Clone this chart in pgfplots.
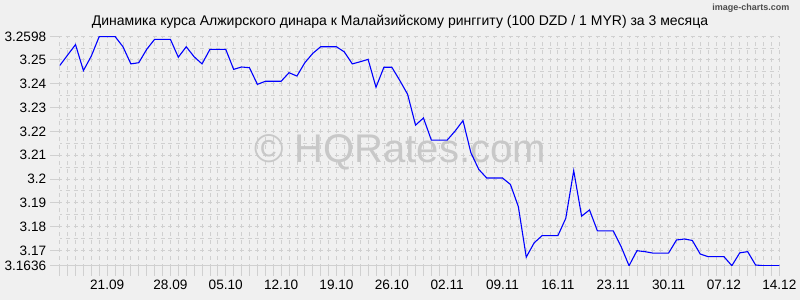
\documentclass[border=0pt]{standalone}
\usepackage{pgfplots}
\pgfplotsset{compat=1.18}
\usepackage{fontspec}
\setmainfont{Liberation Sans}
\definecolor{bg}{HTML}{F0F0F0}
\definecolor{gridc}{HTML}{D0D0D0}
\definecolor{wm}{HTML}{C8C8C8}
\definecolor{lineblue}{HTML}{0000FF}
\pgfplotstableread{
d v
0 3.2476
1 3.2520
2 3.2564
3 3.2455
4 3.2516
5 3.2598
6 3.2598
7 3.2598
8 3.2555
9 3.2483
10 3.2488
11 3.2544
12 3.2586
13 3.2586
14 3.2586
15 3.2511
16 3.2555
17 3.2513
18 3.2483
19 3.2544
20 3.2544
21 3.2544
22 3.2460
23 3.2470
24 3.2467
25 3.2397
26 3.2410
27 3.2410
28 3.2410
29 3.2446
30 3.2432
31 3.2488
32 3.2527
33 3.2555
34 3.2555
35 3.2555
36 3.2533
37 3.2483
38 3.2492
39 3.2502
40 3.2385
41 3.2469
42 3.2469
43 3.2414
44 3.2355
45 3.2226
46 3.2256
47 3.2163
48 3.2163
49 3.2163
50 3.2201
51 3.2245
52 3.2110
53 3.2040
54 3.2004
55 3.2004
56 3.2004
57 3.1977
58 3.1884
59 3.1672
60 3.1732
61 3.1762
62 3.1762
63 3.1762
64 3.1835
65 3.2035
66 3.1844
67 3.1870
68 3.1782
69 3.1782
70 3.1782
71 3.1716
72 3.1636
73 3.1699
74 3.1695
75 3.1689
76 3.1689
77 3.1689
78 3.1744
79 3.1748
80 3.1742
81 3.1685
82 3.1674
83 3.1674
84 3.1674
85 3.1636
86 3.1690
87 3.1695
88 3.1639
89 3.1636
90 3.1636
91 3.1636
}\rates
\begin{document}
\begin{tikzpicture}
\fill[bg] (-59.7bp,-34.3bp) rectangle (740.3bp,265.7bp);
\begin{axis}[
  at={(0,0)}, anchor=south west,
  scale only axis, width=719.6bp, height=229.2bp,
  xmin=0, xmax=91, ymin=3.1636, ymax=3.2598,
  axis line style={draw=none},
  xtick={0,...,91}, xticklabels={},
  ytick={3.1636,3.17,3.18,3.19,3.2,3.21,3.22,3.23,3.24,3.25,3.2598},
  yticklabels={3.1636,3.17,3.18,3.19,3.2,3.21,3.22,3.23,3.24,3.25,3.2598},
  minor ytick={3.175,3.185,3.195,3.205,3.215,3.225,3.235,3.245,3.255},
  extra x ticks={6,14,21,28,35,42,49,56,63,70,77,84,91},
  extra x tick labels={21.09,28.09,05.10,12.10,19.10,26.10,02.11,09.11,16.11,23.11,30.11,07.12,14.12},
  extra x tick style={grid=none, major tick length=0pt, xticklabel style={yshift=-11bp}},
  xtick pos=bottom, ytick pos=left, tick align=outside,
  major tick length=10bp, minor tick length=0pt,
  tick style={gridc, line width=0.8bp},
  grid=both,
  major grid style={gridc, line width=0.8bp, dash pattern=on 4bp off 3.91bp, dash phase=2bp},
  minor grid style={gridc, line width=0.8bp, dash pattern=on 4bp off 3.91bp, dash phase=2bp},
  ticklabel style={font=\fontsize{13.6bp}{16bp}\selectfont, text=black},
]
\node[wm, font=\fontsize{40bp}{48bp}\selectfont, anchor=base] at (rel axis cs:0.473,0.4524) {© HQRates.com};
\draw[gridc, line width=1bp] (rel axis cs:0,0) -- (rel axis cs:1,0);
\addplot[lineblue, line width=1.1bp, mark=none] table[x=d, y=v] {\rates};
\end{axis}
\node[anchor=base, font=\fontsize{14bp}{16bp}\selectfont] at (340.3bp,239.7bp) {Динамика курса Алжирского динара к Малайзийскому ринггиту (100 DZD / 1 MYR) за 3 месяца};
\node[anchor=base east, text=black!70, font=\fontsize{9bp}{11bp}\selectfont\bfseries] at (733.3bp,254.7bp) {image-charts.com};
\pgfresetboundingbox
\path[use as bounding box] (-59.7bp,-34.3bp) rectangle (740.3bp,265.7bp);
\end{tikzpicture}
\end{document}
